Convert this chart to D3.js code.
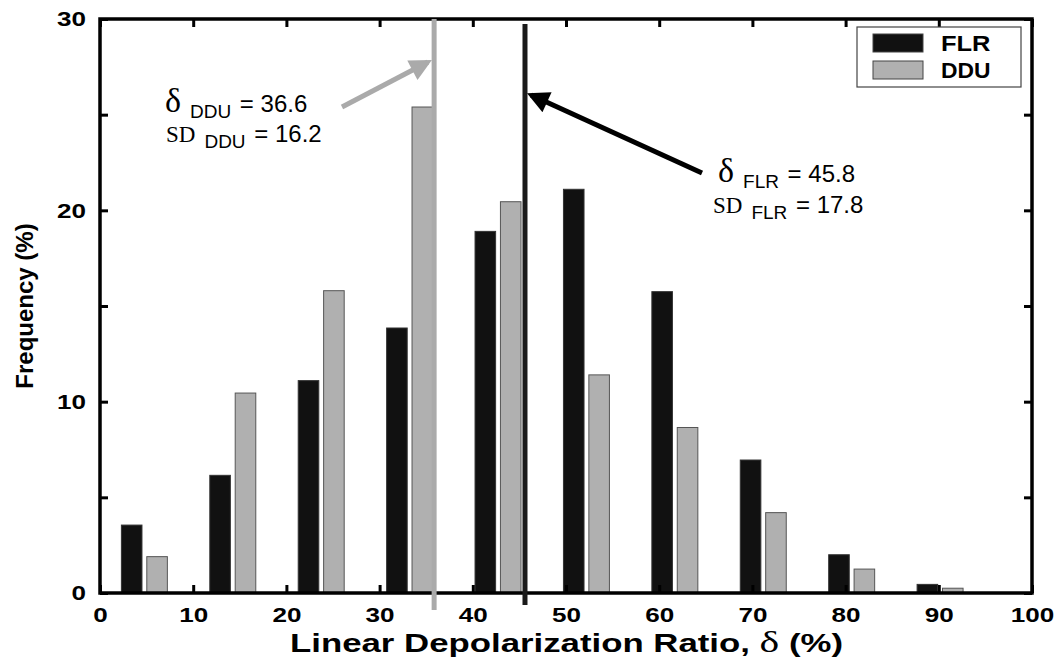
<!DOCTYPE html>
<html>
<head>
<meta charset="utf-8">
<script src="https://cdn.jsdelivr.net/npm/d3@7"></script>
<style>
body { margin: 0; background: #fff; }
svg { display: block; }
.tick text { font-family: "Liberation Sans", Arial, sans-serif; font-weight: bold; font-size: 21px; }
</style>
</head>
<body>
<div id="chart"></div>
<script>
// bin starts (%), frequencies
var bins = [0, 10, 20, 30, 40, 50, 60, 70, 80, 90];
var flr = [3.55, 6.15, 11.1, 13.85, 18.9, 21.1, 15.75, 6.95, 2.0, 0.45];
var ddu = [1.9, 10.45, 15.8, 25.4, 20.45, 11.4, 8.65, 4.2, 1.25, 0.25];
var seriesNames = ["FLR", "DDU"];
var seriesColors = ["#111111", "#b0b0b0"];
var meanLines = [35.85, 45.6];   // drawn position of DDU and FLR mean lines
var xTicks = [0, 10, 20, 30, 40, 50, 60, 70, 80, 90, 100];
var yTicks = [0, 10, 20, 30];
var yMinor = [5, 15, 25];

var W = 1056, H = 657;
var m = {left: 100, right: 24, top: 19, bottom: 64};

var svg = d3.select('#chart').append('svg')
    .attr('width', W).attr('height', H);

var x = d3.scaleLinear().domain([0, 100]).range([m.left, W - m.right]);
var y = d3.scaleLinear().domain([0, 30]).range([H - m.bottom, m.top]);

// the bar groups in the figure sit on a slightly compressed grid
var xBin = d3.scaleBand().domain(bins).range([x(0), x(94.9)])
    .paddingInner(0.48).paddingOuter(0.242);
var xSer = d3.scaleBand().domain(seriesNames).range([0, xBin.bandwidth()])
    .paddingInner(0.19);

// bars
var g = svg.append('g');
[flr, ddu].forEach(function(vals, s) {
    g.selectAll('rect.s' + s).data(bins).enter().append('rect')
        .attr('class', 's' + s)
        .attr('x', function(d) { return xBin(d) + xSer(seriesNames[s]); })
        .attr('width', xSer.bandwidth())
        .attr('y', function(d, i) { return y(vals[i]); })
        .attr('height', function(d, i) { return y(0) - y(vals[i]); })
        .attr('fill', seriesColors[s])
        .attr('stroke', s === 0 ? '#333' : '#555').attr('stroke-width', 1);
});

// axes with inward ticks
var xAxis = svg.append('g')
    .attr('transform', 'translate(0,' + y(0) + ')')
    .call(d3.axisBottom(x).tickValues(xTicks).tickSize(-8).tickPadding(14));
var xTop = svg.append('g')
    .attr('transform', 'translate(0,' + y(30) + ')')
    .call(d3.axisTop(x).tickValues(xTicks).tickSize(-8).tickFormat(''));
var yAxis = svg.append('g')
    .attr('transform', 'translate(' + x(0) + ',0)')
    .call(d3.axisLeft(y).tickValues(yTicks.concat(yMinor))
        .tickSize(-8).tickPadding(14)
        .tickFormat(function(d) { return yTicks.indexOf(d) >= 0 ? d : ''; }));
var yRight = svg.append('g')
    .attr('transform', 'translate(' + x(100) + ',0)')
    .call(d3.axisRight(y).tickValues(yTicks.concat(yMinor)).tickSize(-8).tickFormat(''));

[xAxis, xTop, yAxis, yRight].forEach(function(a) {
    a.select('.domain').remove();
    a.selectAll('.tick line').attr('stroke', '#000').attr('stroke-width', 3);
});
// wide lettering as in the figure
svg.selectAll('.tick text').each(function() {
    var s = d3.select(this).text();
    if (s) d3.select(this).attr('textLength', s.length * 14.5).attr('lengthAdjust', 'spacingAndGlyphs');
});

svg.append('rect')
    .attr('x', x(0)).attr('y', y(30))
    .attr('width', x(100) - x(0)).attr('height', y(0) - y(30))
    .attr('fill', 'none').attr('stroke', '#000').attr('stroke-width', 3.5);

// mean lines
svg.append('line')
    .attr('x1', x(meanLines[0])).attr('x2', x(meanLines[0]))
    .attr('y1', y(30)).attr('y2', 610)
    .attr('stroke', '#aaaaaa').attr('stroke-width', 5);
svg.append('line')
    .attr('x1', x(meanLines[1])).attr('x2', x(meanLines[1]))
    .attr('y1', 24).attr('y2', 605)
    .attr('stroke', '#1a1a1a').attr('stroke-width', 5);

// arrows
var defs = svg.append('defs');
function marker(id, color) {
    defs.append('marker').attr('id', id)
        .attr('viewBox', '0 0 10 10').attr('refX', 8).attr('refY', 5)
        .attr('markerWidth', 5.5).attr('markerHeight', 4.4)
        .attr('markerUnits', 'strokeWidth').attr('orient', 'auto')
        .append('path').attr('d', 'M0,0L10,5L0,10z').attr('fill', color);
}
marker('ag', '#aaaaaa');
marker('ab', '#000');
svg.append('line').attr('x1', 342).attr('y1', 107).attr('x2', 428).attr('y2', 62)
    .attr('stroke', '#aaaaaa').attr('stroke-width', 5).attr('marker-end', 'url(#ag)');
svg.append('line').attr('x1', 702).attr('y1', 173).attr('x2', 531).attr('y2', 95)
    .attr('stroke', '#000').attr('stroke-width', 5).attr('marker-end', 'url(#ab)');

// annotations
function annot(xp, yp, sym, symSize, sub, val) {
    var t = svg.append('text').attr('x', xp).attr('y', yp)
        .attr('font-family', '"Liberation Sans", Arial, sans-serif').attr('font-size', 24);
    t.append('tspan').text(sym)
        .attr('font-family', '"Liberation Serif", "Times New Roman", serif').attr('font-size', symSize);
    t.append('tspan').text(sub).attr('font-size', 19).attr('dy', 6).attr('dx', 9);
    t.append('tspan').text(' = ' + val).attr('dy', -6).attr('dx', 2);
}
annot(165, 112, '\u03b4', 34, 'DDU', '36.6');
annot(166, 142, 'SD', 23, 'DDU', '16.2');
annot(718, 182, '\u03b4', 34, 'FLR', '45.8');
annot(713, 213, 'SD', 23, 'FLR', '17.8');

// legend
var lg = svg.append('g');
lg.append('rect').attr('x', 857).attr('y', 27).attr('width', 164).attr('height', 60)
    .attr('fill', '#fff').attr('stroke', '#444').attr('stroke-width', 1.2);
seriesNames.forEach(function(name, i) {
    lg.append('rect').attr('x', 873).attr('y', 34 + i * 27).attr('width', 50).attr('height', 18)
        .attr('fill', seriesColors[i]).attr('stroke', '#444').attr('stroke-width', 1);
    lg.append('text').attr('x', 941).attr('y', 51 + i * 27).text(name)
        .attr('font-family', '"Liberation Sans", Arial, sans-serif')
        .attr('font-weight', 'bold').attr('font-size', 22)
        .attr('textLength', name.length * 16.5).attr('lengthAdjust', 'spacingAndGlyphs');
});

// axis titles
svg.append('text')
    .attr('transform', 'translate(33,' + ((y(0) + y(30)) / 2) + ') rotate(-90)')
    .attr('text-anchor', 'middle')
    .attr('font-family', '"Liberation Sans Narrow", "Liberation Sans", Arial, sans-serif')
    .attr('font-weight', 'bold').attr('font-size', 24)
    .text('Frequency (%)');
var xt = svg.append('text')
    .attr('x', 290).attr('y', 652)
    .attr('font-family', '"Liberation Sans", Arial, sans-serif')
    .attr('font-weight', 'bold').attr('font-size', 25)
    .attr('textLength', 553).attr('lengthAdjust', 'spacingAndGlyphs');
xt.append('tspan').text('Linear Depolarization Ratio, ');
xt.append('tspan').text('\u03b4').attr('font-weight', 'normal')
    .attr('font-family', '"Liberation Serif", serif').attr('font-size', 30);
xt.append('tspan').text(' (%)');
</script>
</body>
</html>
